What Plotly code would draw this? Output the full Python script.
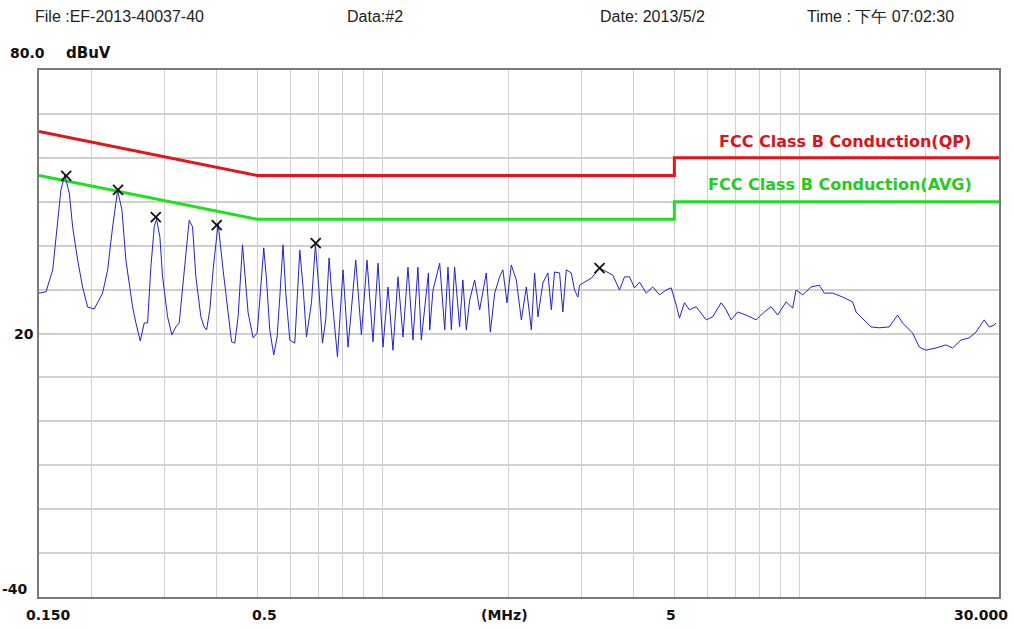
import plotly.graph_objects as go

# ---- data (frequency in MHz, level in dBuV) ----
freq = [0.150, 0.1559, 0.1618, 0.1661, 0.1693, 0.1729, 0.1773, 0.1806, 0.1857, 0.1908,
        0.1962, 0.2035, 0.2073, 0.2131, 0.2191, 0.2252, 0.2315, 0.2371, 0.2423, 0.2515,
        0.2561, 0.2623, 0.2681, 0.2731, 0.2781, 0.2833, 0.2870, 0.2923, 0.2967, 0.3050,
        0.3123, 0.3193, 0.3252, 0.3342, 0.3436, 0.3501, 0.3565, 0.3665, 0.3733, 0.3782,
        0.3851, 0.3921, 0.4031, 0.4143, 0.4260, 0.4341, 0.4420, 0.4501, 0.4612, 0.4671,
        0.4757, 0.4890, 0.5000, 0.5102, 0.5186, 0.5265, 0.5361, 0.5480, 0.5582, 0.5666,
        0.5769, 0.5856, 0.5987, 0.6155, 0.6327, 0.6442, 0.6564, 0.6748, 0.6897, 0.7025,
        0.7170, 0.7301, 0.7437, 0.7577, 0.7789, 0.8032, 0.8257, 0.8615, 0.8890, 0.9169,
        0.9476, 0.9743, 1.0014, 1.0295, 1.0581, 1.0879, 1.1181, 1.1495, 1.1815, 1.2143,
        1.2373, 1.2868, 1.2961, 1.3197, 1.3695, 1.408, 1.4334, 1.4606, 1.4868, 1.5284,
        1.556, 1.586, 1.616, 1.661, 1.707, 1.771, 1.811, 1.855, 1.906, 1.941,
        1.985, 2.033, 2.090, 2.149, 2.209, 2.271, 2.312, 2.355, 2.420, 2.488,
        2.536, 2.581, 2.654, 2.702, 2.754, 2.831, 2.882, 2.936, 2.963, 3.046,
        3.161, 3.309, 3.433, 3.560, 3.694, 3.798, 3.904, 4.014, 4.126, 4.280,
        4.438, 4.606, 4.780, 4.914, 5.050, 5.143, 5.287, 5.435, 5.640, 5.960,
        6.180, 6.474, 6.654, 6.840, 7.093, 7.430, 7.852, 8.219, 8.529, 8.844,
        9.264, 9.608, 9.789, 10.156, 10.637, 11.13, 11.44, 11.98, 12.66, 13.37,
        13.63, 14.13, 14.80, 15.49, 16.37, 17.14, 17.62, 18.62, 19.32, 20.04,
        21.18, 22.38, 23.21, 24.31, 25.45, 26.41, 27.64, 28.42, 29.21, 29.49]
level = [29.2, 29.5, 34.5, 44.3, 52.7, 56.1, 52.0, 44.3, 36.7, 30.6,
         26.0, 25.6, 27.0, 29.2, 34.5, 44.3, 52.6, 48.1, 36.7, 26.0,
         22.4, 18.3, 22.4, 22.4, 35.1, 44.3, 46.0, 42.0, 32.9, 23.8,
         19.7, 21.5, 22.4, 34.5, 45.8, 44.3, 32.9, 23.8, 21.5, 20.8,
         25.4, 34.5, 45.0, 34.5, 24.7, 18.1, 17.8, 23.8, 40.2, 34.5,
         24.7, 19.0, 20.1, 30.6, 39.5, 32.2, 20.8, 15.1, 19.2, 28.3,
         40.2, 29.2, 18.5, 17.8, 39.0, 30.6, 19.2, 27.0, 40.2, 30.6,
         17.8, 23.1, 37.2, 27.0, 14.7, 34.5, 16.9, 36.7, 19.7, 36.7,
         18.1, 36.0, 16.9, 30.6, 16.2, 32.9, 19.2, 35.1, 18.5, 35.1,
         18.5, 33.8, 20.8, 29.9, 36.0, 20.8, 35.1, 20.8, 35.1, 21.5,
         32.2, 20.8, 27.6, 32.2, 25.4, 33.8, 20.3, 29.2, 32.9, 34.5,
         27.0, 35.6, 32.2, 23.1, 30.6, 20.8, 33.8, 23.8, 31.5, 33.8,
         25.4, 34.0, 33.8, 24.9, 34.5, 33.8, 29.9, 28.3, 31.0, 31.7,
         32.6, 34.9, 34.0, 33.3, 29.9, 32.9, 32.9, 30.4, 31.7, 29.2,
         30.6, 28.8, 29.9, 30.4, 26.5, 23.5, 27.0, 25.4, 26.1, 23.1,
         23.8, 27.0, 25.4, 23.1, 24.9, 24.2, 23.1, 24.9, 26.1, 24.2,
         27.2, 25.8, 29.9, 28.8, 30.6, 31.0, 29.2, 29.2, 28.3, 27.2,
         24.9, 23.5, 21.5, 21.3, 21.5, 24.2, 22.4, 20.1, 16.9, 16.2,
         16.7, 17.4, 16.7, 18.5, 19.0, 20.3, 23.1, 21.5, 21.9, 22.4]

# limit lines
qp_freq = [0.15, 0.5, 5, 5, 30]
qp_level = [66, 56, 56, 60, 60]
avg_freq = [0.15, 0.5, 5, 5, 30]
avg_level = [56, 46, 46, 50, 50]

# peak markers
mk_freq = [0.1743, 0.2320, 0.2858, 0.4000, 0.6908, 3.309]
mk_level = [55.9, 52.7, 46.5, 44.7, 40.6, 34.9]

grid_x = [0.2, 0.3, 0.4, 0.5, 0.6, 0.7, 0.8, 0.9, 1, 2, 3, 4, 5, 6, 7, 8, 9, 10, 20]

fig = go.Figure()
fig.add_trace(go.Scatter(x=qp_freq, y=qp_level, mode="lines",
                         line=dict(color="#e3141b", width=3), hoverinfo="skip"))
fig.add_trace(go.Scatter(x=avg_freq, y=avg_level, mode="lines",
                         line=dict(color="#1ee01e", width=3), hoverinfo="skip"))
fig.add_trace(go.Scatter(x=freq, y=level, mode="lines",
                         line=dict(color="#2222cc", width=1)))
fig.add_trace(go.Scatter(x=mk_freq, y=mk_level, mode="markers",
                         marker=dict(symbol="x-thin-open", size=10, color="#111111",
                                     line=dict(color="#111111", width=1.8))))

FONT = "Liberation Sans, Arial, sans-serif"
BFONT = "DejaVu Sans, sans-serif"
fig.update_layout(
    width=1014, height=630,
    margin=dict(l=39, r=15, t=70, b=33),
    paper_bgcolor="white", plot_bgcolor="white",
    showlegend=False,
    font=dict(family=FONT, size=14, color="#222"),
    xaxis=dict(type="log", range=[-0.82391, 1.47712], tickvals=grid_x,
               showticklabels=False, ticks="", showgrid=True,
               gridcolor="#d0d0d0", gridwidth=1.3, zeroline=False,
               showline=True, mirror=True, linecolor="#7a7a7a", linewidth=2),
    yaxis=dict(range=[-40, 80], dtick=10, showticklabels=False, ticks="",
               showgrid=True, gridcolor="#d0d0d0", gridwidth=1.6, zeroline=False,
               showline=True, mirror=True, linecolor="#7a7a7a", linewidth=2),
)

def ann(text, x, y, xanchor="left", size=14, bold=False, color="#222",
        yref="paper", yshift=0, family=FONT):
    fig.add_annotation(text=f"<b>{text}</b>" if bold else text, x=x, y=y,
                       xref="paper", yref=yref, xanchor=xanchor, yanchor="middle",
                       showarrow=False, yshift=yshift,
                       font=dict(family=family, size=size, color=color))

# header
ann("File :EF-2013-40037-40", -0.0065, 1.1006, size=16)
ann("Data:#2", 0.3187, 1.1006, size=16)
ann("Date: 2013/5/2", 0.5823, 1.1006, size=16)
ann("Time : 下午 07:02:30", 0.7979, 1.1006, size=16)

# axis labels
ann("80.0", -0.0323, 1.0323, bold=True, color="#111", size=14, family=BFONT)
ann("dBuV", 0.026, 1.0323, bold=True, color="#111", size=15, family=BFONT)
ann("20", -0.003, 20, xanchor="right", bold=True, color="#111", yref="y", family=BFONT)
ann("-40", -0.009, -40, xanchor="right", bold=True, color="#111", yref="y", yshift=8, family=BFONT)
ann("0.150", -0.0156, -0.034, bold=True, color="#111", family=BFONT)
ann("0.5", 0.235, -0.034, xanchor="center", bold=True, color="#111", family=BFONT)
ann("(MHz)", 0.485, -0.034, xanchor="center", bold=True, color="#111", family=BFONT)
ann("5", 0.658, -0.034, xanchor="center", bold=True, color="#111", family=BFONT)
ann("30.000", 1.0115, -0.034, xanchor="right", bold=True, color="#111", family=BFONT)

# limit labels
ann("FCC Class B Conduction(QP)", 0.8396, 0.865, xanchor="center", size=16, bold=True,
    color="#d9141b", family=BFONT)
ann("FCC Class B Conduction(AVG)", 0.8344, 0.7818, xanchor="center", size=16, bold=True,
    color="#22cc22", family=BFONT)

fig.write_html("out.html", config={"displayModeBar": False},
               post_script="document.body.style.margin='0';document.body.style.overflow='hidden';")
